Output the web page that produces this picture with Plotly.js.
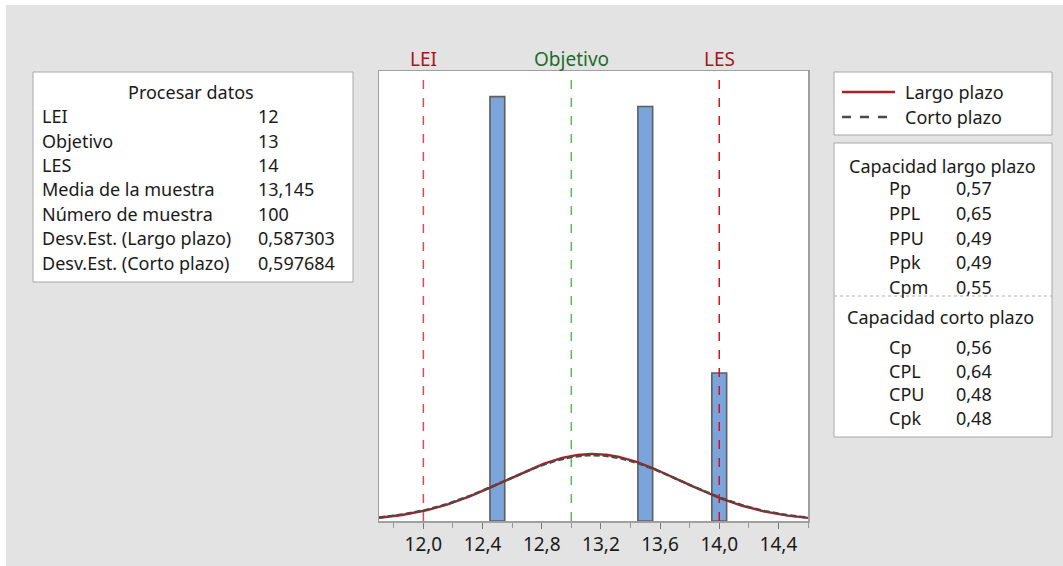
<!DOCTYPE html>
<html>
<head>
<meta charset="utf-8">
<script src="https://cdn.plot.ly/plotly-3.0.1.min.js"></script>
<style>html,body{margin:0;padding:0;background:#fff;}#chart{width:1063px;height:566px;}</style>
</head>
<body>
<div id="chart"></div>
<script>
// ---- Data ----
var binCenters = [12.5, 13.5, 14.0];
var binCounts = [43, 42, 15];
var binWidth = 0.1;
var sampleN = 100;
var sampleMean = 13.145;
var sdLong = 0.587303;
var sdShort = 0.597684;
var specNames = ["LEI", "Objetivo", "LES"];
var specValues = [12, 13, 14];
var tickVals = [12.0, 12.4, 12.8, 13.2, 13.6, 14.0, 14.4];

var procTitle = "Procesar datos";
var procLabels = ["LEI", "Objetivo", "LES", "Media de la muestra", "Número de muestra", "Desv.Est. (Largo plazo)", "Desv.Est. (Corto plazo)"];
var procValues = ["12", "13", "14", "13,145", "100", "0,587303", "0,597684"];

var legendNames = ["Largo plazo", "Corto plazo"];

var longTitle = "Capacidad largo plazo";
var longLabels = ["Pp", "PPL", "PPU", "Ppk", "Cpm"];
var longValues = ["0,57", "0,65", "0,49", "0,49", "0,55"];
var shortTitle = "Capacidad corto plazo";
var shortLabels = ["Cp", "CPL", "CPU", "Cpk"];
var shortValues = ["0,56", "0,64", "0,48", "0,48"];

// ---- Layout helpers (pixel -> paper) ----
var W = 1063, H = 566;
var PL = 379, PR = 808, PT = 71, PB = 521;
function px(x) { return (x - PL) / (PR - PL); }
function py(y) { return (PB - y) / (PB - PT); }

var FONT = "Noto Sans, Open Sans, sans-serif";
var TXT = "#1a1a1a";

// fitted normal curves (scaled to frequency)
function normalCurve(mu, sd) {
  var xs = [], ys = [];
  var n = 300, x0 = 11.7, x1 = 14.6;
  for (var i = 0; i <= n; i++) {
    var x = x0 + (x1 - x0) * i / n;
    var z = (x - mu) / sd;
    xs.push(x);
    ys.push(sampleN * binWidth * Math.exp(-0.5 * z * z) / (sd * Math.sqrt(2 * Math.PI)));
  }
  return {x: xs, y: ys};
}
var cL = normalCurve(sampleMean, sdLong);
var cS = normalCurve(sampleMean, sdShort);

var traces = [
  {type: "bar", x: binCenters, y: binCounts, width: binWidth,
   marker: {color: "#7aa4da", line: {color: "#5e5e5e", width: 1.6}},
   hoverinfo: "skip", showlegend: false},
  {type: "scatter", mode: "lines", x: cL.x, y: cL.y, name: legendNames[0],
   line: {color: "#b01e23", width: 2.4}, showlegend: false},
  {type: "scatter", mode: "lines", x: cS.x, y: cS.y, name: legendNames[1],
   line: {color: "#4a4a4a", width: 2.4, dash: "6px,3px"}, showlegend: false}
];

var shapes = [];
var annotations = [];

// white strips at top/left edge
shapes.push({type: "rect", xref: "paper", yref: "paper", x0: px(0), x1: px(W), y0: py(5), y1: py(0), fillcolor: "#ffffff", line: {width: 0}, layer: "below"});
shapes.push({type: "rect", xref: "paper", yref: "paper", x0: px(0), x1: px(6), y0: py(H), y1: py(0), fillcolor: "#ffffff", line: {width: 0}, layer: "below"});

// spec lines
var specLineColors = ["#e4474c", "#5cb85c", "#dd1016"];
var specTextColors = ["#a3171e", "#1f6b2a", "#a3171e"];
for (var i = 0; i < specValues.length; i++) {
  shapes.push({type: "line", xref: "x", yref: "paper", x0: specValues[i], x1: specValues[i], y0: 0, y1: 1,
    line: {color: specLineColors[i], width: 1.5, dash: "dash"}});
  annotations.push({xref: "x", yref: "paper", x: specValues[i], y: 1, yanchor: "bottom", xanchor: "center",
    text: specNames[i], showarrow: false, yshift: -3, font: {family: FONT, size: 19, color: specTextColors[i]}});
}

// boxes
function box(x0, y0, x1, y1) {
  shapes.push({type: "rect", xref: "paper", yref: "paper", x0: px(x0), x1: px(x1), y0: py(y1), y1: py(y0),
    fillcolor: "#ffffff", line: {color: "#a8a8a8", width: 1}});
}
box(33, 72, 353, 282);
box(834, 72, 1052, 135);
box(834, 143, 1052, 437);
shapes.push({type: "line", xref: "paper", yref: "paper", x0: px(834), x1: px(1052), y0: py(296), y1: py(296),
  line: {color: "#b0b0b0", width: 1, dash: "dot"}});

function txt(x, y, s, anchor, size) {
  annotations.push({xref: "paper", yref: "paper", x: px(x), y: py(y), text: s, showarrow: false,
    xanchor: anchor, yanchor: "middle", font: {family: FONT, size: size || 18, color: TXT}});
}

// left table
txt(191, 92, procTitle, "center");
var rowY = [116, 141, 165, 189, 214, 238, 263];
for (var i = 0; i < procLabels.length; i++) {
  txt(40, rowY[i], procLabels[i], "left");
  txt(256, rowY[i], procValues[i], "left");
}

// legend
shapes.push({type: "line", xref: "paper", yref: "paper", x0: px(842), x1: px(895), y0: py(92), y1: py(92),
  line: {color: "#b01e23", width: 2.5}});
shapes.push({type: "line", xref: "paper", yref: "paper", x0: px(842), x1: px(895), y0: py(117), y1: py(117),
  line: {color: "#4a4a4a", width: 2.5, dash: "dash"}});
txt(903, 92, legendNames[0], "left", 18);
txt(903, 117, legendNames[1], "left", 18);

// capability table
txt(942, 166, longTitle, "center");
var lY = [188, 213, 238, 262, 287];
for (var i = 0; i < longLabels.length; i++) {
  txt(887, lY[i], longLabels[i], "left");
  txt(954, lY[i], longValues[i], "left");
}
txt(940, 317, shortTitle, "center");
var sY = [347, 371, 394, 418];
for (var i = 0; i < shortLabels.length; i++) {
  txt(887, sY[i], shortLabels[i], "left");
  txt(954, sY[i], shortValues[i], "left");
}

var layout = {
  width: W, height: H,
  margin: {l: PL, r: W - PR, t: PT, b: H - PB, pad: 0},
  paper_bgcolor: "#e3e3e3",
  plot_bgcolor: "#ffffff",
  separators: ",.",
  showlegend: false,
  bargap: 0,
  xaxis: {
    range: [11.7, 14.6], tickmode: "array", tickvals: tickVals, tickformat: ".1f",
    ticks: "outside", ticklen: 6, tickcolor: "#777", tickwidth: 1,
    minor: {dtick: 0.2, tick0: 0, ticks: "outside", ticklen: 5, tickcolor: "#999"},
    showgrid: false, zeroline: false,
    showline: true, mirror: true, linecolor: "#a0a0a0", linewidth: 1.5,
    tickfont: {family: FONT, size: 19, color: TXT}
  },
  yaxis: {
    range: [0, 45.6], showticklabels: false, ticks: "", showgrid: false, zeroline: false,
    showline: true, mirror: true, linecolor: "#a0a0a0", linewidth: 1.5
  },
  shapes: shapes,
  annotations: annotations
};

Plotly.newPlot("chart", traces, layout, {displayModeBar: false, staticPlot: true});
</script>
</body>
</html>
